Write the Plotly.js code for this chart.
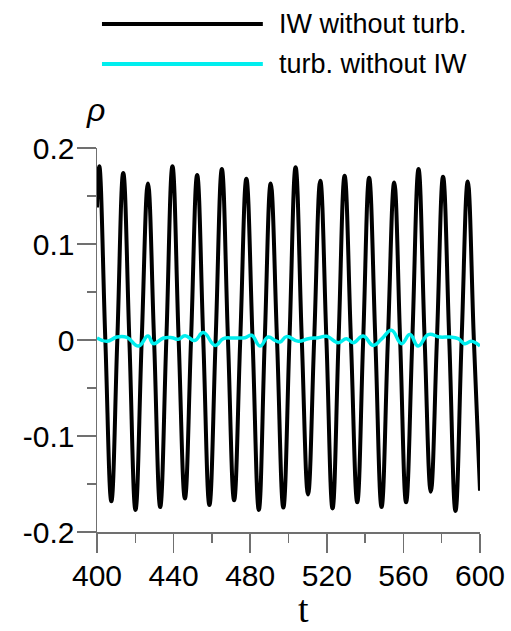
<!DOCTYPE html>
<html>
<head>
<meta charset="utf-8">
<script src="https://cdn.plot.ly/plotly-3.0.1.min.js"></script>
<style>html,body{margin:0;padding:0;background:#fff;}#chart{width:511px;height:631px;}</style>
</head>
<body>
<div id="chart"></div>
<script>
// Series 1: IW without turb. (peaks, zero crossings, troughs)
var tBlack = [400, 401.2, 404.35, 407.5, 410.6, 413.7, 416.9, 420.1, 423.35, 426.6,
  429.8, 433.0, 436.2, 439.4, 442.65, 445.9, 449.1, 452.3, 455.5, 458.7,
  461.95, 465.2, 468.4, 471.6, 474.8, 478.0, 481.25, 484.5, 487.6, 490.7,
  494.0, 497.3, 500.5, 503.7, 506.95, 510.2, 513.4, 516.6, 519.8, 523.0,
  526.15, 529.3, 532.6, 535.9, 539.0, 542.1, 545.35, 548.6, 551.9, 555.2,
  558.3, 561.4, 564.65, 567.9, 571.1, 574.3, 577.5, 580.7, 583.95, 587.2,
  590.4, 593.6, 596.8, 600];
var rhoBlack = [0.138, 0.181, 0, -0.168, 0, 0.174, 0, -0.177, 0, 0.163,
  0, -0.174, 0, 0.181, 0, -0.165, 0, 0.172, 0, -0.172,
  0, 0.178, 0, -0.167, 0, 0.168, 0, -0.177, 0, 0.163,
  0, -0.1745, 0, 0.180, 0, -0.161, 0, 0.166, 0, -0.1755,
  0, 0.171, 0, -0.169, 0, 0.169, 0, -0.174, 0, 0.164,
  0, -0.169, 0, 0.178, 0, -0.158, 0, 0.170, 0, -0.178,
  0, 0.165, 0, -0.157];

// Series 2: turb. without IW
var tCyan = [400, 405.2, 410.4, 415.6, 421.7, 426.6, 429.5, 434.7, 439.1, 442.5,
  446, 451, 455.5, 461.7, 466, 471.2, 477.3, 480.8, 485.1, 489.4,
  492.9, 495.6, 499, 505.1, 510.3, 515.5, 519.9, 526, 530.3, 533.8,
  539, 544.2, 548.8, 553.8, 559, 563.4, 567.7, 573, 579, 584.2,
  588.6, 592, 595.5, 600];
var rhoCyan = [0.0021, -0.0014, 0.0031, 0.0028, -0.0063, 0.0042, -0.0038, 0.0021, 0.0024, 0.0007,
  0.0045, -0.0005, 0.0077, -0.0056, 0.0014, 0.0021, 0.0024, 0.0049, -0.0063, 0.0031,
  -0.0003, -0.0021, 0.0035, -0.0014, 0.0014, 0.0024, 0.0038, -0.0028, 0.0014, -0.0028,
  0.0042, -0.0056, 0.0014, 0.0101, -0.0038, 0.0056, -0.0063, 0.0056, 0.0031, 0.0031,
  0.0014, -0.0038, -0.0014, -0.0063];

var seriesNames = ["IW without turb.", "turb. without IW"];
var xTickVals = [400, 440, 480, 520, 560, 600];
var xTickText = ["400", "440", "480", "520", "560", "600"];
var yTickVals = [-0.2, -0.1, 0, 0.1, 0.2];
var yTickText = ["-0.2", "-0.1", "0", "0.1", "0.2"];
var xTitle = "t";
var yTitle = "ρ";

var colBlack = "#000000", colCyan = "#00eeee";
var axisCol = "#707070";
var font = "Liberation Sans, Arial, sans-serif";

var traces = [
  {x: tBlack, y: rhoBlack, name: seriesNames[0], mode: "lines",
   line: {color: colBlack, width: 4, shape: "spline", smoothing: 1.2}, showlegend: false},
  {x: tCyan, y: rhoCyan, name: seriesNames[1], mode: "lines",
   line: {color: colCyan, width: 3.5, shape: "spline", smoothing: 1.3}, showlegend: false}
];

var axisCommon = {
  showgrid: false, zeroline: false, showline: true, linecolor: axisCol, linewidth: 1.5,
  ticks: "outside", ticklen: 19, tickwidth: 1.5, tickcolor: axisCol,
  tickfont: {family: font, size: 30, color: "#000"}, mirror: false
};

var layout = {
  width: 511, height: 631,
  margin: {l: 97, r: 31, t: 148, b: 99, pad: 0},
  paper_bgcolor: "#fff", plot_bgcolor: "#fff",
  font: {family: font, color: "#000"},
  xaxis: Object.assign({}, axisCommon, {
    range: [400, 600], tickmode: "array", tickvals: xTickVals, ticktext: xTickText,
    minor: {dtick: 20, tick0: 400, ticks: "outside", ticklen: 9, tickwidth: 1.5, tickcolor: axisCol},
    ticklabelstandoff: -3
  }),
  yaxis: Object.assign({}, axisCommon, {
    range: [-0.2, 0.2], tickmode: "array", tickvals: yTickVals, ticktext: yTickText,
    minor: {dtick: 0.05, tick0: 0, ticks: "outside", ticklen: 9, tickwidth: 1.5, tickcolor: axisCol},
    ticklabelstandoff: -4
  }),
  shapes: [
    {type: "line", xref: "paper", yref: "paper", x0: 0.013, x1: 0.433, y0: 1.323, y1: 1.323,
     line: {color: colBlack, width: 4}},
    {type: "line", xref: "paper", yref: "paper", x0: 0.013, x1: 0.433, y0: 1.219, y1: 1.219,
     line: {color: colCyan, width: 4}}
  ],
  annotations: [
    {xref: "paper", yref: "paper", x: 0.47, y: 1.323, xanchor: "left", yanchor: "middle",
     text: seriesNames[0], showarrow: false, font: {family: font, size: 27, color: "#000"}},
    {xref: "paper", yref: "paper", x: 0.47, y: 1.219, xanchor: "left", yanchor: "middle",
     text: seriesNames[1], showarrow: false, font: {family: font, size: 27, color: "#000"}},
    {xref: "paper", yref: "paper", x: -0.005, y: 1.1, xanchor: "center", yanchor: "middle",
     text: "<i>" + yTitle + "</i>", showarrow: false, font: {family: font, size: 32, color: "#000"}},
    {xref: "paper", yref: "paper", x: 0.539, y: -0.2005, xanchor: "center", yanchor: "middle",
     text: xTitle, showarrow: false, font: {family: "Liberation Serif, Times New Roman, serif", size: 38, color: "#000"}}
  ]
};

Plotly.newPlot("chart", traces, layout, {displayModeBar: false, staticPlot: true});
</script>
</body>
</html>
